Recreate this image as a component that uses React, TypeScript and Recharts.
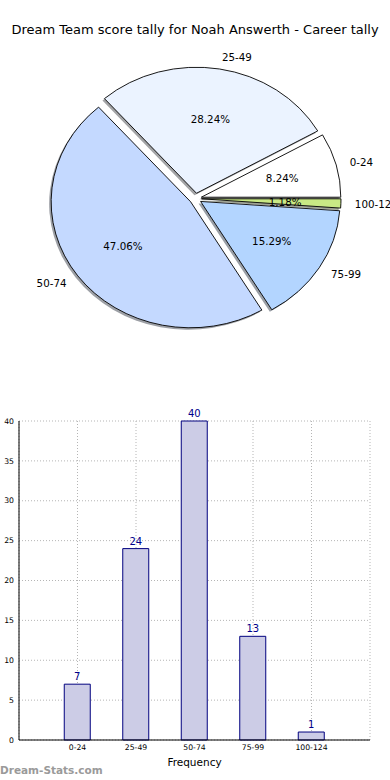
import React from "react";
import {
  PieChart, Pie, BarChart, Bar, XAxis, YAxis, CartesianGrid, LabelList,
} from "recharts";

const categories = ["0-24", "25-49", "50-74", "75-99", "100-124"];
const counts = [7, 24, 40, 13, 1];
const sliceColors = ["#FFFFFF", "#EBF3FF", "#C4D9FF", "#B3D5FF", "#C9E985"];
const yTicks = [0, 5, 10, 15, 20, 25, 30, 35, 40];

const FONT = "'DejaVu Sans', sans-serif";

// matplotlib drew the pie without equal aspect, so it is an ellipse
const RY = 126;
const RX = 139.5;
const EXPLODE = 6;

const pieData = categories.map((name, i) => ({ name, value: counts[i], color: sliceColors[i] }));
const barData = categories.map((range, i) => ({ range, count: counts[i] }));

function pt(cx: number, cy: number, deg: number, s = 1) {
  const r = (deg * Math.PI) / 180;
  return [cx + RX * s * Math.cos(r), cy - RY * s * Math.sin(r)];
}

function slicePath(cx: number, cy: number, start: number, end: number) {
  const [x1, y1] = pt(cx, cy, start);
  const [x2, y2] = pt(cx, cy, end);
  const large = end - start > 180 ? 1 : 0;
  return `M${cx},${cy} L${x1},${y1} A${RX},${RY} 0 ${large} 0 ${x2},${y2} Z`;
}

function exploded(p: any) {
  const r = (p.midAngle * Math.PI) / 180;
  return [p.cx + EXPLODE * Math.cos(r), p.cy - EXPLODE * (RY / RX) * Math.sin(r)];
}

function darken(hex: string) {
  const n = parseInt(hex.slice(1), 16);
  const c = [(n >> 16) & 255, (n >> 8) & 255, n & 255].map((v) => Math.round(v * 0.3));
  return `rgb(${c[0]},${c[1]},${c[2]})`;
}

const renderShadow = (p: any) => {
  const [x, y] = exploded(p);
  return (
    <path
      d={slicePath(x - 2, y + 2, p.startAngle, p.endAngle)}
      fill={darken(p.payload.color)}
      fillOpacity={0.5}
      stroke="none"
    />
  );
};

const renderWedge = (p: any) => {
  const [x, y] = exploded(p);
  return (
    <path
      d={slicePath(x, y, p.startAngle, p.endAngle)}
      fill={p.payload.color}
      stroke="#000"
      strokeWidth={0.9}
      strokeLinejoin="round"
    />
  );
};

const renderText = (p: any) => {
  const [x, y] = exploded(p);
  const [lx, ly] = pt(x, y, p.midAngle, 1.1);
  const [px, py] = pt(x, y, p.midAngle, 0.6);
  return (
    <g>
      <text x={lx} y={ly} textAnchor={lx > x ? "start" : "end"} dominantBaseline="central"
        fontFamily={FONT} fontSize={10.3} fill="#000">
        {p.payload.name}
      </text>
      <text x={px} y={py} textAnchor="middle" dominantBaseline="central"
        fontFamily={FONT} fontSize={10.3} fill="#000">
        {(p.percent * 100).toFixed(2)}%
      </text>
    </g>
  );
};

export default function App() {
  const tick = { fontSize: 7.7, fill: "#000", fontFamily: FONT };
  return (
    <div style={{ position: "absolute", left: 0, top: 0, width: 390, height: 780, background: "#fff", overflow: "hidden" }}>
      <div style={{ position: "absolute", top: 21, left: 0, width: 390, textAlign: "center", fontFamily: FONT, fontSize: 13, lineHeight: "18px", color: "#000" }}>
        Dream Team score tally for Noah Answerth - Career tally
      </div>
      <div style={{ position: "absolute", top: 0, left: 0 }}>
        <PieChart width={390} height={390} margin={{ top: 0, right: 0, bottom: 0, left: 0 }}>
          {[renderShadow, renderWedge, renderText].map((fn, i) => (
            <Pie
              key={i}
              data={pieData}
              dataKey="value"
              nameKey="name"
              cx={195.5}
              cy={198.6}
              outerRadius={RY}
              startAngle={0}
              endAngle={360}
              fill="none"
              stroke="none"
              label={fn}
              labelLine={false}
              isAnimationActive={false}
            />
          ))}
        </PieChart>
      </div>
      <div style={{ position: "absolute", top: 400, left: 0 }}>
        <BarChart width={390} height={380} data={barData} margin={{ top: 21, right: 20, bottom: 10, left: 0 }}>
          <CartesianGrid stroke="#b5b5b5" strokeDasharray="1 2" />
          <XAxis
            dataKey="range"
            padding={{ left: 29.25, right: 29.25 }}
            interval={0}
            tickLine={false}
            tickSize={0}
            tickMargin={5}
            tick={tick}
            stroke="#000"
            height={30}
            label={{ value: "Frequency", position: "insideBottom", offset: 4, fontSize: 10.5, fill: "#000", fontFamily: FONT }}
          />
          <XAxis xAxisId="top" orientation="top" dataKey="range" tick={false} tickLine={false} height={0} stroke="#000" />
          <YAxis
            domain={[0, 40]}
            ticks={yTicks}
            width={19}
            tickLine={false}
            tickSize={0}
            tickMargin={5}
            tick={tick}
            stroke="#000"
          />
          <YAxis yAxisId="right" orientation="right" domain={[0, 40]} width={0} tick={false} tickLine={false} stroke="#000" />
          <Bar dataKey="count" fill="#CCCCE6" stroke="#00007F" strokeWidth={1} barSize={26} isAnimationActive={false}>
            <LabelList dataKey="count" position="top" offset={4} fill="#00008B" fontSize={10} fontFamily={FONT} />
          </Bar>
        </BarChart>
      </div>
      <div style={{ position: "absolute", top: 762, left: 0, fontFamily: FONT, fontWeight: "bold", fontSize: 10.5, color: "#9a9a9a", lineHeight: "16px" }}>
        Dream-Stats.com
      </div>
    </div>
  );
}
